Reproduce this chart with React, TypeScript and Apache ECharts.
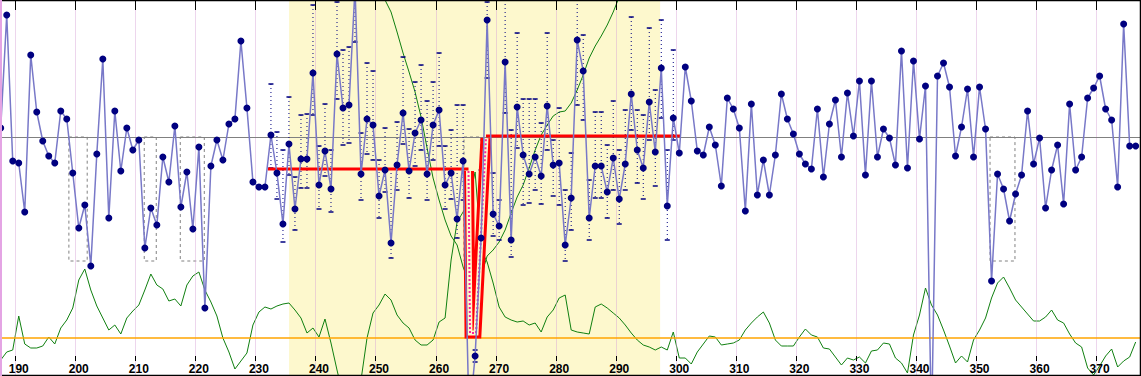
import React, { useEffect, useRef } from "react";
import * as echarts from "echarts";

const W = 1141;
const H = 376;
const X_MIN = 187.43;
const PX_PER_UNIT = 6.005;
const X_MAX = X_MIN + W / PX_PER_UNIT;
const BIN_OFFSET = 0.55; // points sit in the middle of their bin

const FIRST_DAY = 187;

// main (blue) series, y in chart units (0 = top, 376 = bottom)
const blueValues = [
  128, 15, 161, 163, 212, 55, 112, 141, 156, 163,
  111, 119, 173, 228, 205, 266, 154, 59, 218, 111,
  171, 128, 150, 140, 248, 208, 225, 157, 182, 126,
  207, 172, 229, 147, 308, 166, 140, 160, 124, 119,
  41, 108, 182, 187, 187, 135, 173, 224, 144, 209,
  159, 159, 73, 185, 151, 189, 54, 108, 105, -12,
  174, 119, 125, 196, 170, 243, 165, 113, 171, 133,
  120, 174, 125, 110, 185, 173, 219, 161, 420, 356,
  238, 20, 214, 226, 62, 240, 107, 155, 174, 157,
  176, 106, 165, 163, 245, 198, 40, 71, 218, 166,
  166, 192, 158, 199, 164, 94, 150, 168, 102, 152,
  68, 206, 118, 153, 67, 101, 151, 155, 127, 145,
  186, 98, 109, 128, 211, 104, 195, 160, 195, 155,
  94, 119, 134, 154, 164, 169, 109, 177, 124, 100,
  157, 93, 136, 81, 175, 81, 157, 129, 138, 165,
  51, 168, 61, 139, 86, 430, 76, 63, 87, 156,
  127, 89, 157, 87, 129, 281, 174, 189, 221, 194,
  175, 111, 164, 138, 208, 170, 145, 204, 104, 170,
  157, 98, 88, 76, 109, 120, 187, 24, 146, 146,
];

// lower oscillator (green)
const oscValues = [
  360, 352, 350, 316, 344, 348, 348, 346, 337, 344,
  328, 320, 308, 280, 269, 290, 306, 318, 330, 325,
  334, 318, 311, 305, 290, 274, 285, 289, 301, 299,
  306, 285, 276, 272, 290, 302, 316, 338, 352, 369,
  361, 353, 325, 312, 307, 309, 306, 304, 303, 310,
  318, 333, 328, 337, 319, 343, 370, 395, 410, 410,
  380, 338, 313, 305, 294, 300, 315, 323, 328, 340,
  345, 345, 340, 322, 318, 260, 222, 212, 200, 172,
  250, 262, 283, 307, 317, 320, 322, 321, 325, 323,
  332, 317, 310, 298, 295, 330, 332, 333, 334, 307,
  304, 308, 313, 318, 325, 333, 340, 345, 347, 350,
  347, 350, 332, 358, 358, 364, 352, 344, 336, 337,
  345, 344, 343, 340, 330, 323, 317, 312, 323, 340,
  346, 346, 346, 337, 329, 335, 337, 348, 349, 357,
  365, 358, 360, 357, 363, 351, 350, 343, 344, 358,
  363, 373, 335, 315, 288, 305, 315, 330, 346, 363,
  356, 362, 340, 330, 318, 298, 283, 277, 288, 300,
  307, 314, 321, 321, 317, 310, 320, 323, 334, 343,
  347, 368, 375, 366, 356, 349, 367, 361, 357, 342,
];

// big green curve inside the highlighted band
const curveFirstDay = 250;
const curveValues = [
  -20, 0, 12, 32, 53, 72, 92, 117, 148, 178,
  200, 220, 236, 245, 267, 283, 290, 276, 256, 250,
  242, 230, 213, 197, 185, 168, 150, 135, 125, 116,
  112, 111, 103, 90, 75, 58, 46, 36, 25, 12, -3,
];

// high / low ranges (dotted bars)
const barDays = [
  232, 233, 234, 235, 236, 237, 238, 239, 240, 241, 242, 243, 244, 245, 246, 247,
  248, 249, 250, 251, 252, 253, 254, 255, 256, 257, 258, 259, 260, 261, 262, 263, 264,
  266, 267, 268, 269, 270, 271, 272, 273, 274, 275, 276, 277, 278, 279, 280, 281,
  282, 283, 284, 285, 286, 287, 288, 289, 290, 291, 292, 293, 294, 295, 296, 297, 298, 299,
];
const barHigh = [
  84, 132, 150, 97, 177, 115, 114, 5, 146, 104, 150, 2, 50, 47, -20, 133,
  63, 71, 160, 128, 169, 122, 57, 129, 82, 65, 101, 82, 53, 146, 130, 105, 105,
  350, 170, 2, 173, 200, 0, 130, 33, 99, 99, 99, 123, 33, 140, 108, 190,
  153, 0, 35, 180, 112, 112, 145, 101, 150, 110, 17, 110, 115, 28, 90, 20, 150, 50,
];
const barLow = [
  168, 199, 242, 175, 230, 188, 188, 115, 209, 176, 212, 99, 145, 143, 42, 200,
  154, 160, 218, 192, 258, 190, 144, 198, 166, 150, 200, 160, 146, 209, 199, 238, 200,
  362, 250, 78, 236, 240, 113, 257, 148, 205, 203, 190, 204, 150, 196, 205, 261,
  230, 105, 120, 240, 198, 198, 218, 190, 224, 190, 130, 183, 199, 140, 186, 118, 240, 140,
];

// red level line
const levelLeftU = [232.02, 265.45];
const levelLeftY = [169, 169];
const levelDropU = [265.45, 265.7, 266.7, 268.36];
const levelDropY = [171, 333, 333, 138];
const levelRightU = [268.36, 300.7];
const levelRightY = [136, 136];

const refLineY = 137;
const oscRefY = 338;
const bandStart = 235.57;
const bandEnd = 297.36;
const boxRanges = [
  [198.9, 201.95],
  [211.45, 213.45],
  [217.45, 221.45],
  [264.7, 267.5],
  [352.3, 356.45],
];
const boxTop = 137;
const boxBottom = 261;

const tickValues: number[] = [];
for (let t = 190; t <= 370; t += 10) tickValues.push(t);

const pairs = (xs: number[], ys: number[]) => xs.map((x, i) => [x, ys[i]]);

export default function App() {
  const ref = useRef<HTMLDivElement>(null);
  useEffect(() => {
    if (!ref.current) return;
    const chart = echarts.init(ref.current, null, { renderer: "svg" });
    const blueData = blueValues.map((v, i) => [FIRST_DAY + i + BIN_OFFSET, v]);
    const oscData = oscValues.map((v, i) => [FIRST_DAY + i + BIN_OFFSET, v]);
    const curveData = curveValues.map((v, i) => [curveFirstDay + i + BIN_OFFSET, v]);
    const barData = barDays.map((d, i) => [d + BIN_OFFSET, barHigh[i], barLow[i]]);
    const navy = "#000080";

    const option: any = {
      animation: false,
      grid: { left: 0, right: 0, top: 0, bottom: 0, containLabel: false },
      xAxis: [
        { type: "value", min: X_MIN, max: X_MAX, show: false },
        {
          type: "value", min: X_MIN, max: X_MAX, position: "top", z: 20,
          axisLine: { show: false },
          axisTick: { show: true, inside: true, length: 10, customValues: tickValues, lineStyle: { color: "#000", width: 1 } },
          axisLabel: { show: false }, splitLine: { show: false },
        },
        {
          type: "value", min: X_MIN, max: X_MAX, position: "bottom", offset: -15, z: 20,
          axisLine: { show: false },
          axisTick: { show: true, inside: true, length: 5, customValues: tickValues, lineStyle: { color: "#000", width: 1 } },
          axisLabel: { show: false }, splitLine: { show: false },
        },
        {
          type: "value", min: X_MIN, max: X_MAX, position: "bottom", offset: -13, z: 20,
          axisLine: { show: false }, axisTick: { show: false }, splitLine: { show: false },
          axisLabel: {
            show: true, margin: 0,
            customValues: tickValues.map((v) => v + BIN_OFFSET),
            formatter: (v: number) => String(Math.round(v - BIN_OFFSET)),
            color: "#000", fontSize: 12, fontWeight: "bold", fontFamily: "Liberation Sans",
          },
        },
      ],
      yAxis: { type: "value", min: 0, max: H, inverse: true, show: false },
      series: [
        {
          type: "line", data: [], z: 1, silent: true,
          markArea: {
            silent: true,
            itemStyle: { color: "#fdf8cd" },
            data: [[{ xAxis: bandStart, yAxis: 0 }, { xAxis: bandEnd, yAxis: H }]],
          },
        },
        {
          type: "line", data: [], z: 2, silent: true,
          markLine: {
            silent: true, symbol: ["none", "none"], label: { show: false },
            lineStyle: { color: "rgba(215,165,215,0.45)", width: 1, type: "solid" },
            data: tickValues.map((v) => ({ xAxis: v })),
          },
        },
        {
          type: "line", data: [], z: 3, silent: true,
          markArea: {
            silent: true,
            itemStyle: { color: "rgba(0,0,0,0)", borderColor: "#808080", borderWidth: 1, borderType: [3, 3] },
            data: boxRanges.map((r) => [{ xAxis: r[0], yAxis: boxTop }, { xAxis: r[1], yAxis: boxBottom }]),
          },
          markLine: {
            silent: true, symbol: ["none", "none"], label: { show: false },
            data: [
              { yAxis: refLineY, lineStyle: { color: "#808080", width: 1, type: "solid" } },
              { yAxis: oscRefY, lineStyle: { color: "#ffa500", width: 1.5, type: "solid" } },
            ],
          },
        },
        {
          type: "line", data: oscData, z: 4, showSymbol: false, silent: true,
          lineStyle: { color: "#108010", width: 1 },
        },
        {
          type: "line", data: curveData, z: 4, showSymbol: false, silent: true,
          lineStyle: { color: "#108010", width: 1 },
        },
        {
          type: "custom", data: barData, z: 5, silent: true,
          encode: { x: 0, y: [1, 2] },
          renderItem: (params: any, api: any) => {
            const hi = api.coord([api.value(0), api.value(1)]);
            const lo = api.coord([api.value(0), api.value(2)]);
            return {
              type: "group",
              children: [
                { type: "line", shape: { x1: hi[0], y1: hi[1], x2: lo[0], y2: lo[1] }, style: { stroke: navy, lineWidth: 1, lineDash: [1, 3] } },
                { type: "line", shape: { x1: hi[0] - 2.5, y1: hi[1], x2: hi[0] + 2.5, y2: hi[1] }, style: { stroke: navy, lineWidth: 1.5 } },
                { type: "line", shape: { x1: lo[0] - 2.5, y1: lo[1], x2: lo[0] + 2.5, y2: lo[1] }, style: { stroke: navy, lineWidth: 1.5 } },
              ],
            };
          },
        },
        {
          type: "line", data: pairs(levelDropU, levelDropY), z: 6, showSymbol: false, silent: true,
          lineStyle: { color: "#ff0000", width: 11, join: "miter" },
        },
        {
          type: "line", data: pairs(levelDropU, levelDropY), z: 6, showSymbol: false, silent: true,
          lineStyle: { color: "#fdf8cd", width: 5, join: "miter" },
        },
        {
          type: "line", data: pairs(levelDropU, levelDropY), z: 6, showSymbol: false, silent: true,
          lineStyle: { color: "#ff20a0", width: 2, type: [2, 2] },
        },
        {
          type: "line", data: pairs(levelLeftU, levelLeftY), z: 6, showSymbol: false, silent: true,
          lineStyle: { color: "#ff0000", width: 3 },
        },
        {
          type: "line", data: pairs(levelRightU, levelRightY), z: 6, showSymbol: false, silent: true,
          lineStyle: { color: "#ff0000", width: 3 },
        },
        {
          type: "line", data: blueData, z: 8, silent: true,
          symbol: "circle", symbolSize: 7, showAllSymbol: true,
          lineStyle: { color: "#7878c8", width: 1.5 },
          itemStyle: { color: navy, borderWidth: 0 },
        },
      ],
      graphic: [
        { type: "rect", z: 100, silent: true, shape: { x: 0.5, y: 0.5, width: W - 1, height: H - 1 }, style: { fill: "none", stroke: "#000", lineWidth: 1.5 } },
        { type: "rect", z: 101, silent: true, shape: { x: 0, y: 0, width: 2, height: H }, style: { fill: "#e4a4e4" } },
      ],
    };
    chart.setOption(option);
    return () => chart.dispose();
  }, []);
  return (
    <div
      ref={ref}
      style={{ position: "fixed", left: 0, top: 0, width: W, height: H, background: "#fff" }}
    />
  );
}
